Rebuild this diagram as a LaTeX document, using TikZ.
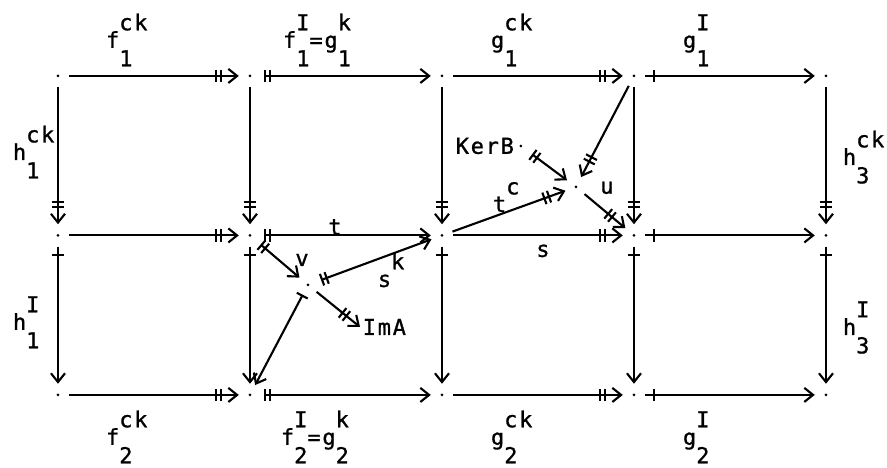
\documentclass[tikz,border=0pt]{standalone}
\usepackage{fontspec}
\setmainfont[LetterSpace=8,FakeBold=1]{DejaVu Sans Mono}
\usetikzlibrary{arrows.meta,positioning,decorations.markings}

% letter with superscript and subscript set apart, as on the plotter
\newcommand{\lbl}[3]{#1\rlap{\raisebox{10pt}{#2}}\raisebox{-10.5pt}{#3}}

\begin{document}
\begin{tikzpicture}[x=3.84cm,y=3.19cm,line width=1.2pt,
    font=\fontsize{12.5}{14}\selectfont]

  \useasboundingbox (-0.302,-0.458) rectangle (4.318,2.476);

  \tikzset{
    pt/.style={circle,fill,inner sep=0.6pt,outer sep=5.5pt},
    lab/.style={inner sep=0pt,anchor=base west},
    vee/.tip={Straight Barb[length=5pt,width=8pt]},
    epi/.style={-{Bar[width=7pt,sep=1.6pt]Bar[width=7pt,sep=2.8pt]vee}},
    mono/.style={{Bar[width=7pt,sep=1.6pt]Bar[width=7pt,sep=1.6pt]}-{vee}},
    tailbar/.style={{Bar[width=7pt]}-{vee}},
    split/.style={-{vee},
      decoration={markings,
        mark=at position 5pt with {\draw[-] (0,-3.5pt) -- (0,3.5pt);}},
      postaction={decorate}}
  }

  % the objects: rows a (top), b, c (bottom), columns 1..5
  \foreach \c in {1,...,5} {
    \node[pt] (a\c) at (\c-1,2) {};
    \node[pt] (b\c) at (\c-1,1) {};
    \node[pt] (c\c) at (\c-1,0) {};
  }

  % horizontal maps
  \foreach \r in {a,b,c} {
    \draw[epi]   (\r1) -- (\r2);
    \draw[mono]  (\r2) -- (\r3);
    \draw[epi]   (\r3) -- (\r4);
    \draw[split] (\r4) -- (\r5);
  }

  % vertical maps
  \foreach \c in {1,...,5} {
    \draw[epi]   (a\c) -- (b\c);
    \draw[split] (b\c) -- (c\c);
  }

  % labels of the outer maps
  \node[lab] (fck1) at (0.245,2.176)  {\lbl{f}{ck}{1}};
  \node[lab] (fi1)  at (1.167,2.176)  {\lbl{f}{I}{1}=\lbl{g}{k}{1}};
  \node[lab] (gck1) at (2.25,2.176)   {\lbl{g}{ck}{1}};
  \node[lab] (gi1)  at (3.25,2.176)   {\lbl{g}{I}{1}};
  \node[lab] (hck1) at (-0.240,1.473) {\lbl{h}{ck}{1}};
  \node[lab] (hck3) at (4.083,1.442)  {\lbl{h}{ck}{3}};
  \node[lab] (hi1)  at (-0.240,0.408) {\lbl{h}{I}{1}};
  \node[lab] (hi3)  at (4.083,0.376)  {\lbl{h}{I}{3}};
  \node[lab] (fck2) at (0.245,-0.313) {\lbl{f}{ck}{2}};
  \node[lab] (fi2)  at (1.156,-0.313) {\lbl{f}{I}{2}=\lbl{g}{k}{2}};
  \node[lab] (gck2) at (2.25,-0.313)  {\lbl{g}{ck}{2}};
  \node[lab] (gi2)  at (3.25,-0.313)  {\lbl{g}{I}{2}};

  % the two inner points
  \node[pt] (v)  at (1.302,0.690) {};
  \node[pt] (u)  at (2.698,1.304) {};
  \node[pt] (kb) at (2.411,1.561) {};
  \node[left=-4pt of kb,inner sep=1pt] (kerb) {KerB};
  \node[anchor=west,inner sep=1pt] (ima) at (1.573,0.426) {ImA};

  \draw[mono]    (b2) -- (v);
  \draw[epi]     (v) -- (ima.west);
  \draw[tailbar] (v) -- (c2);
  \draw[mono]    (v) -- (b3);
  \draw[epi]     (a4) -- (u);
  \draw[mono]    (kb) -- (u);
  \draw[epi]     (b3) -- (u);
  \draw[epi]     (u) -- (b4);

  % labels of the inner maps
  \node (lt) at (1.443,1.053) {t};
  \node (ls) at (2.526,0.903) {s};
  \node (lv) at (1.271,0.846) {v};
  \node (lu) at (2.859,1.298) {u};
  \node[lab] (lsk) at (1.661,0.677) {\lbl{s}{k}{}};
  \node[lab] (ltc) at (2.260,1.147) {\lbl{t}{c}{}};

\end{tikzpicture}
\end{document}
